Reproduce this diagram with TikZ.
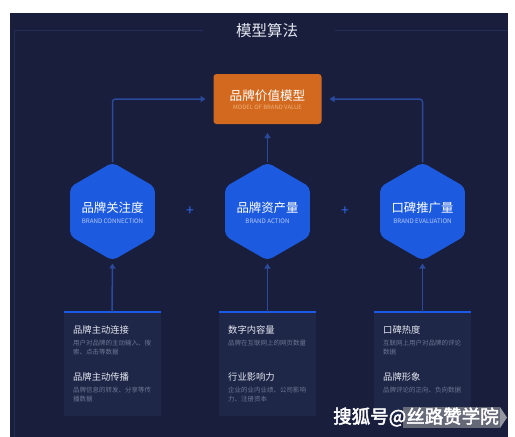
\documentclass[tikz,border=0pt]{standalone}
\usepackage{fontspec}
\setmainfont{Noto Sans CJK SC}
\newfontfamily\wmfont[FakeBold=2.5]{Noto Sans CJK SC}
\usetikzlibrary{shapes.geometric,arrows.meta}
\definecolor{bg}{HTML}{181E3C}
\definecolor{framec}{HTML}{222D58}
\definecolor{hexblue}{HTML}{1C5BE0}
\definecolor{connc}{HTML}{2B4A9C}
\definecolor{orangec}{HTML}{D2691E}
\definecolor{boxc}{HTML}{1F2748}
\definecolor{topc}{HTML}{1A5AE6}
\definecolor{headc}{HTML}{E4E7F0}
\definecolor{descc}{HTML}{6E7594}
\definecolor{hsubc}{HTML}{B8C8F4}
\definecolor{osubc}{HTML}{F0B27A}
\definecolor{plusc}{HTML}{2F69F0}
\begin{document}
\begin{tikzpicture}[x=1pt,y=-1pt,
  hexa/.style={regular polygon,regular polygon sides=6,shape border rotate=30,minimum size=98pt,inner sep=0pt,outer sep=0pt,fill=hexblue,rounded corners=5pt},
  htitle/.style={text=white,font=\fontsize{12.4}{14}\selectfont,inner sep=0pt},
  hsub/.style={text=hsubc,font=\fontsize{6.2}{7}\selectfont,inner sep=0pt},
  obox/.style={fill=orangec,rounded corners=3pt,minimum width=108pt,minimum height=50pt,inner sep=0pt,outer sep=0pt},
  otitle/.style={text=white,font=\fontsize{12.6}{14}\selectfont,inner sep=0pt},
  osub/.style={text=osubc,font=\fontsize{5.9}{7}\selectfont,inner sep=0pt},
  conn/.style={draw=connc,line width=1.5pt,rounded corners=3pt,-{Triangle[width=6pt,length=5pt]}},
  bbox/.style={fill=boxc,minimum width=97pt,minimum height=104pt,inner sep=0pt,outer sep=0pt},
  topline/.style={draw=topc,line width=2pt},
  bhead/.style={text=headc,font=\fontsize{9.3}{11}\selectfont,anchor=west,inner sep=0pt},
  bdesc/.style={text=descc,font=\fontsize{6.5}{8}\selectfont,anchor=west,inner sep=0pt},
  plusn/.style={text=plusc,font=\fontsize{14}{14}\selectfont,inner sep=0pt},
  framel/.style={draw=framec,line width=0.8pt},
  titlen/.style={text=headc,font=\fontsize{15.5}{17}\selectfont,inner sep=0pt},
  wm/.style={text=white,font=\wmfont\fontsize{18.5}{20}\selectfont,inner sep=0pt}
]
\useasboundingbox (0,0) rectangle (515,437);
\fill[white] (0,0) rectangle (515,437);
\fill[bg] (10,13) rectangle (508,437);
\draw[framel] (14,437) -- (14,30) -- (203,30);
\draw[framel] (335,30) -- (508,30);
\node[titlen] (title) at (267,31) {模型算法};

% top orange box
\node[obox] (m) at (267.5,99) {};
\node[otitle] (mt) at (267.5,96) {品牌价值模型};
\node[osub] (ms) at (267.5,107.5) {MODEL OF BRAND VALUE};

% hexagons
\node[hexa] (h1) at (112.5,211.5) {};
\node[hexa] (h2) at (267.5,211.5) {};
\node[hexa] (h3) at (422.5,211.5) {};
\node[htitle] (h1t) at (112.5,208) {品牌关注度};
\node[hsub] (h1s) at (112.5,221) {BRAND CONNECTION};
\node[htitle] (h2t) at (267.5,208) {品牌资产量};
\node[hsub] (h2s) at (267.5,221) {BRAND ACTION};
\node[htitle] (h3t) at (422.5,208) {口碑推广量};
\node[hsub] (h3s) at (422.5,221) {BRAND EVALUATION};

% plus signs
\node[plusn] (p1) at (190,211) {+};
\node[plusn] (p2) at (345,211) {+};

% connectors to top box
\draw[conn,shorten >=8pt] (h1.north) -- (h1.north |- m.west) -- (m.west);
\draw[conn,shorten >=8pt] (h3.north) -- (h3.north |- m.east) -- (m.east);
\draw[conn,shorten >=9pt] (h2.north) -- (m.south);

% bottom boxes
\node[bbox] (b1) at (112,364) {};
\node[bbox] (b2) at (267.5,364) {};
\node[bbox] (b3) at (422.5,364) {};
\draw[topline] (b1.north west) -- (b1.north east);
\draw[topline] (b2.north west) -- (b2.north east);
\draw[topline] (b3.north west) -- (b3.north east);
\draw[conn,shorten >=3pt] (b1.north) -- (h1.south);
\draw[conn,shorten >=3pt] (b2.north) -- (h2.south);
\draw[conn,shorten >=3pt] (b3.north) -- (h3.south);

% box texts left
\node[bhead] (l1) at (73,330) {品牌主动连接};
\node[bdesc] (l2) at (73,343) {用户对品牌的主动输入、搜};
\node[bdesc] (l3) at (73,352.5) {索、点击等数据};
\node[bhead] (l4) at (73,377) {品牌主动传播};
\node[bdesc] (l5) at (73,390) {品牌信息的转发、分享等传};
\node[bdesc] (l6) at (73,399.5) {播数据};
% middle
\node[bhead] (c1) at (228,330) {数字内容量};
\node[bdesc] (c2) at (228,343) {品牌在互联网上的网页数量};
\node[bhead] (c4) at (228,377) {行业影响力};
\node[bdesc] (c5) at (228,390) {企业的业内业绩、公司影响};
\node[bdesc] (c6) at (228,399.5) {力、注册资本};
% right
\node[bhead] (r1) at (383,329.5) {口碑热度};
\node[bdesc] (r2) at (383,343) {互联网上用户对品牌的评论};
\node[bdesc] (r3) at (383,352.5) {数据};
\node[bhead] (r4) at (383,377) {品牌形象};
\node[bdesc] (r5) at (383,390) {品牌评论的正向、负向数据};

% watermark
\fill[gray!70,opacity=0.55] (403,407) rectangle (500,428);
\fill[gray!40,opacity=0.7] (500,407) -- (507,417.5) -- (500,428) -- cycle;
\node[wm] (w) at (416,417) {搜狐号@丝路赞学院};
\end{tikzpicture}
\end{document}
